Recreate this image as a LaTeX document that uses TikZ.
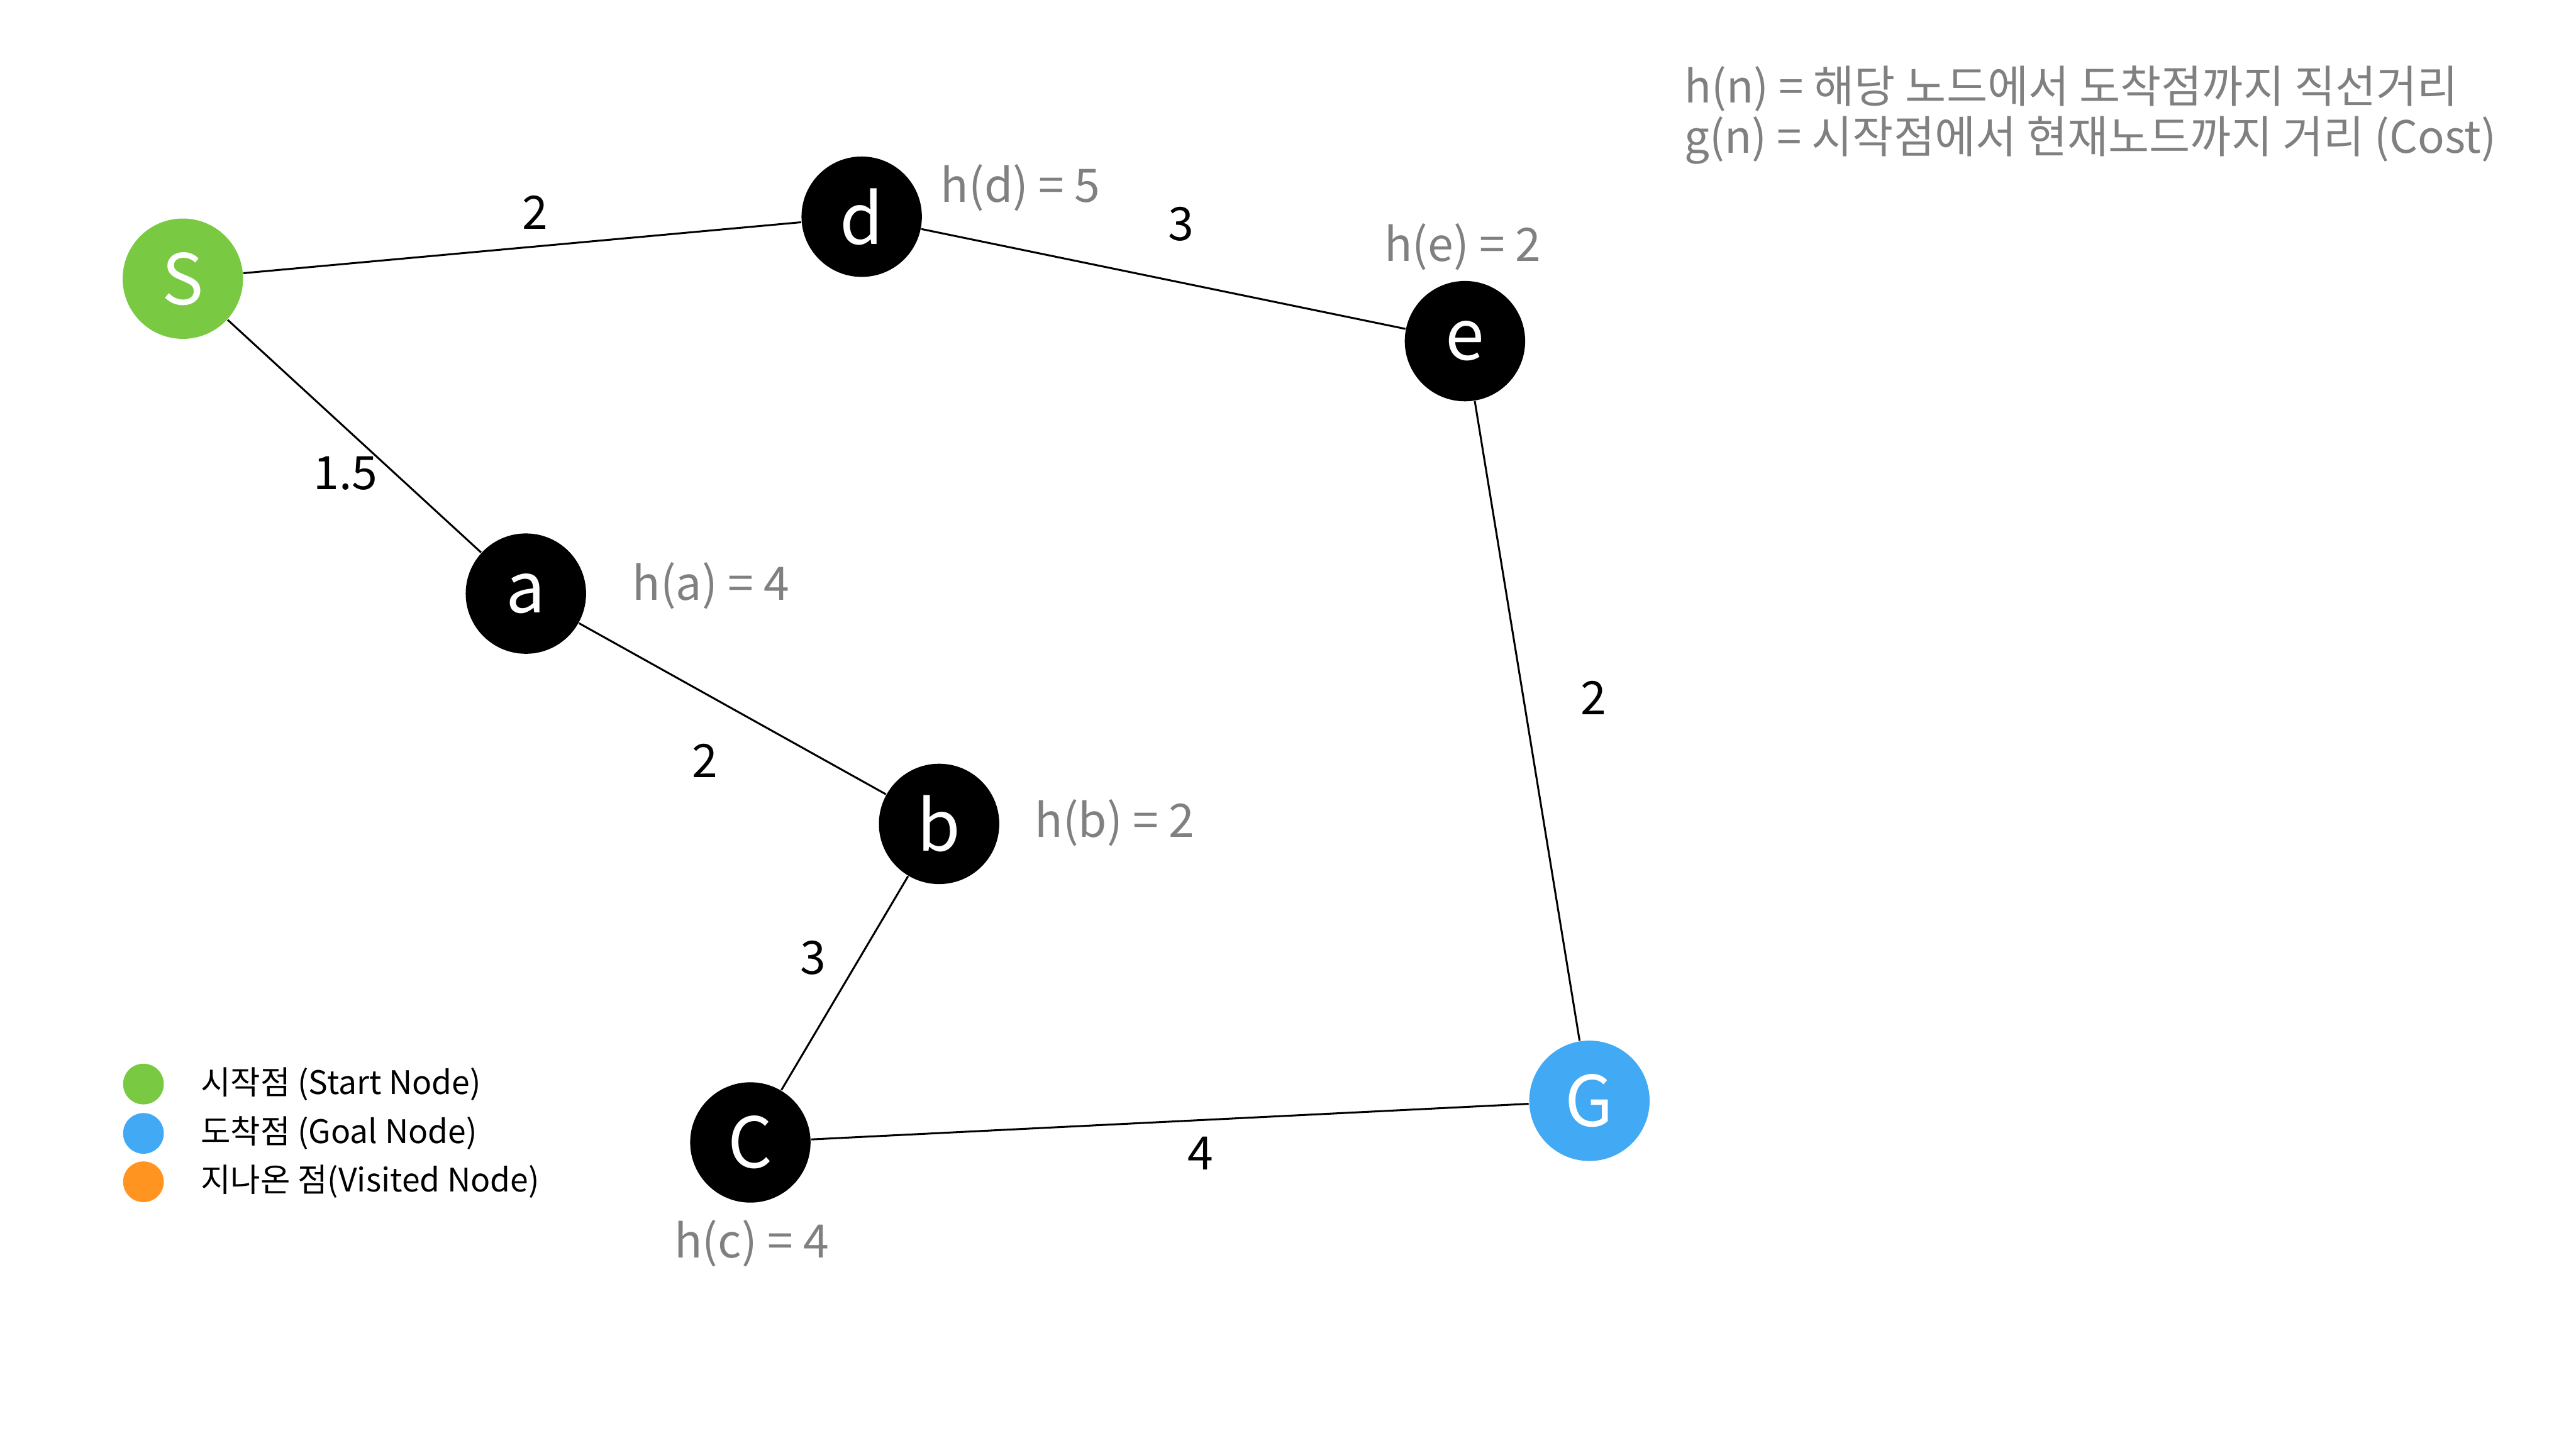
\documentclass[tikz,border=0pt]{standalone}
\usepackage{fontspec}
\setmainfont{Noto Sans CJK KR}
\usepackage{tikz}
\usetikzlibrary{positioning}
\definecolor{startgreen}{HTML}{7AC943}
\definecolor{goalblue}{HTML}{42A9F4}
\definecolor{visitorange}{HTML}{FF9421}
\definecolor{hgray}{HTML}{808080}

\begin{document}
\begin{tikzpicture}[
  vnode/.style={circle, fill=#1, minimum size=1.33cm, inner sep=0pt, text=white, font=\fontsize{22}{26}\selectfont},
  edge/.style={line width=0.6pt, black},
  wlabel/.style={inner sep=0pt, anchor=base, font=\fontsize{14.5}{17}\selectfont},
  hlabel/.style={inner sep=0pt, anchor=base, text=hgray, font=\fontsize{14.5}{17}\selectfont},
  legdot/.style={circle, fill=#1, minimum size=0.45cm, inner sep=0pt},
  legtext/.style={inner sep=0pt, font=\fontsize{10.2}{12}\selectfont}
]
  \useasboundingbox (0,0) rectangle (28.46,-16);

  % Vertices
  \node[vnode=startgreen] (S) at (2.02,-3.08) {S};
  \node[vnode=black] (d) at (9.52,-2.395) {d};
  \node[vnode=black] (e) at (16.185,-3.77) {e};
  \node[vnode=black] (a) at (5.81,-6.56) {a};
  \node[vnode=black] (b) at (10.375,-9.105) {b};
  \node[vnode=black] (C) at (8.29,-12.625) {C};
  \node[vnode=goalblue] (G) at (17.56,-12.165) {G};

  % Edges
  \draw[edge] (S) -- (d);
  \draw[edge] (S) -- (a);
  \draw[edge] (d) -- (e);
  \draw[edge] (a) -- (b);
  \draw[edge] (b) -- (C);
  \draw[edge] (C) -- (G);
  \draw[edge] (e) -- (G);

  % Edge weights
  \node[wlabel] (wSd) at (5.915,-2.535) {2};
  \node[wlabel] (wSa) at (3.82,-5.41) {1.5};
  \node[wlabel] (wde) at (13.045,-2.66) {3};
  \node[wlabel] (wab) at (7.785,-8.59) {2};
  \node[wlabel] (wbC) at (8.985,-10.765) {3};
  \node[wlabel] (wCG) at (13.265,-12.925) {4};
  \node[wlabel] (weG) at (17.605,-7.9) {2};

  % Heuristics
  \node[hlabel] (hd) at (11.275,-2.235) {h(d) = 5};
  \node[hlabel] (he) at (16.16,-2.885) {h(e) = 2};
  \node[hlabel] (ha) at (7.855,-6.63) {h(a) = 4};
  \node[hlabel] (hb) at (12.315,-9.255) {h(b) = 2};
  \node[hlabel] (hc) at (8.305,-13.9) {h(c) = 4};

  % Definitions
  \node[hlabel, anchor=base west, font=\fontsize{14}{16}\selectfont] (hdef) at (18.605,-1.135) {h(n) = 해당 노드에서 도착점까지 직선거리};
  \node[hlabel, anchor=base west, font=\fontsize{14}{16}\selectfont] (gdef) at (18.605,-1.69) {g(n) = 시작점에서 현재노드까지 거리 (Cost)};

  % Legend
  \node[legdot=startgreen] (lstart) at (1.585,-11.98) {};
  \node[legdot=goalblue] (lgoal) at (1.585,-12.525) {};
  \node[legdot=visitorange] (lvisit) at (1.585,-13.06) {};
  \node[legtext, right=0.395cm of lstart] {시작점 (Start Node)};
  \node[legtext, right=0.395cm of lgoal] {도착점 (Goal Node)};
  \node[legtext, right=0.395cm of lvisit] {지나온 점(Visited Node)};
\end{tikzpicture}
\end{document}
